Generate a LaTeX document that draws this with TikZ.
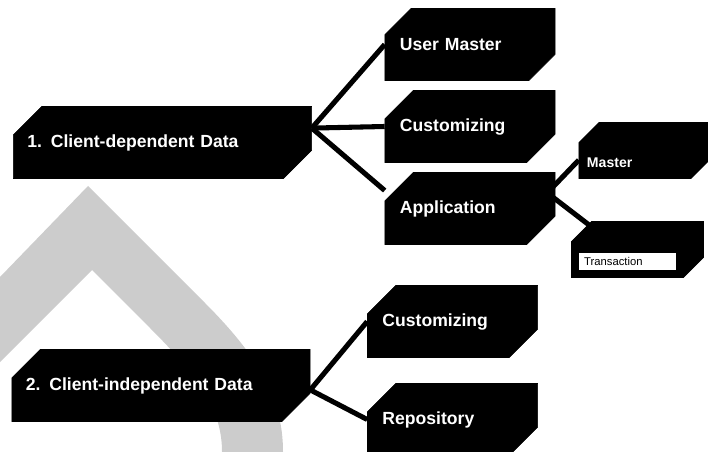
\documentclass[tikz,border=0pt]{standalone}
\usepackage{fontspec}
\setmainfont{Liberation Sans}
\usetikzlibrary{shapes.misc, backgrounds}

\begin{document}
\begin{tikzpicture}[
    x=0.025cm, y=-0.025cm,
    box/.style={chamfered rectangle, chamfered rectangle corners={north west, south east},
                chamfered rectangle xsep=0.5cm, chamfered rectangle ysep=0.5cm,
                fill=black, draw=black, text=white, inner sep=0pt, align=left,
                font=\fontsize{12.5}{14}\selectfont\bfseries},
    bigbox/.style={box, minimum width=7.45cm, minimum height=1.8cm, text width=6.75cm},
    midbox/.style={box, minimum width=4.25cm, minimum height=1.8cm, text width=3.5cm},
    smallbox/.style={box, minimum width=3.3cm, minimum height=1.4cm, text width=2.9cm,
                     font=\fontsize{10}{12}\selectfont\bfseries},
    link/.style={line width=3.6pt, black},
    arch/.style={fill=black!20, draw=none},
]
\useasboundingbox (0,0) rectangle (708,452);

% client-dependent branch
\node[bigbox] (dep) at (162.5,142.5) {1. Client-dependent Data};
\node[midbox] (user) at (470,44.5) {User Master};
\node[midbox] (cust-dep) at (470,126.5) {Customizing};
\node[midbox] (appl) at (470,208.5) {Application};
\node[smallbox] (master) at (645,150.5) {\raisebox{-0.42cm}[0pt][0pt]{Master}};
\node[smallbox] (trans) at (637.5,249.5)
    {\raisebox{-0.4cm}[0pt][0pt]{\fboxsep=0pt\colorbox{white}{\makebox[2.4cm][l]{%
      \rule[-0.12cm]{0pt}{0.43cm}\color{black}\mdseries\fontsize{8}{9}\selectfont\ Transaction}}}};

% client-independent branch
\node[bigbox] (indep) at (161,385.5) {2. Client-independent Data};
\node[midbox] (cust-indep) at (452.5,321.5) {Customizing};
\node[midbox] (repo) at (452.5,419.5) {Repository};

\coordinate (dep-out) at ([yshift=0.36cm]dep.east);
\coordinate (appl-out) at ([xshift=-0.2cm, yshift=0.39cm]appl.east);
\coordinate (indep-out) at ([yshift=-0.11cm]indep.east);

\begin{scope}[on background layer]
% grey arch behind the boxes
\path[arch] (0,277) -- (88,186) -- (205,303)
    .. controls (260,358) and (283,400) .. (283,452) -- (222,452)
    .. controls (222,410) and (200,378) .. (150,328) -- (92,270) -- (0,362) -- cycle;

\draw[link] (dep-out) -- (user.west);
\draw[link] (dep-out) -- (cust-dep.west);
\draw[link] (dep-out) -- ([yshift=0.45cm]appl.west);
\draw[link] (appl-out) -- ([yshift=-0.24cm]master.west);
\draw[link] (appl-out) -- ([xshift=0.45cm, yshift=0.61cm]trans.west);
\draw[link] (indep-out) -- (cust-indep.west);
\draw[link] (indep-out) -- (repo.west);
\end{scope}

\end{tikzpicture}
\end{document}
